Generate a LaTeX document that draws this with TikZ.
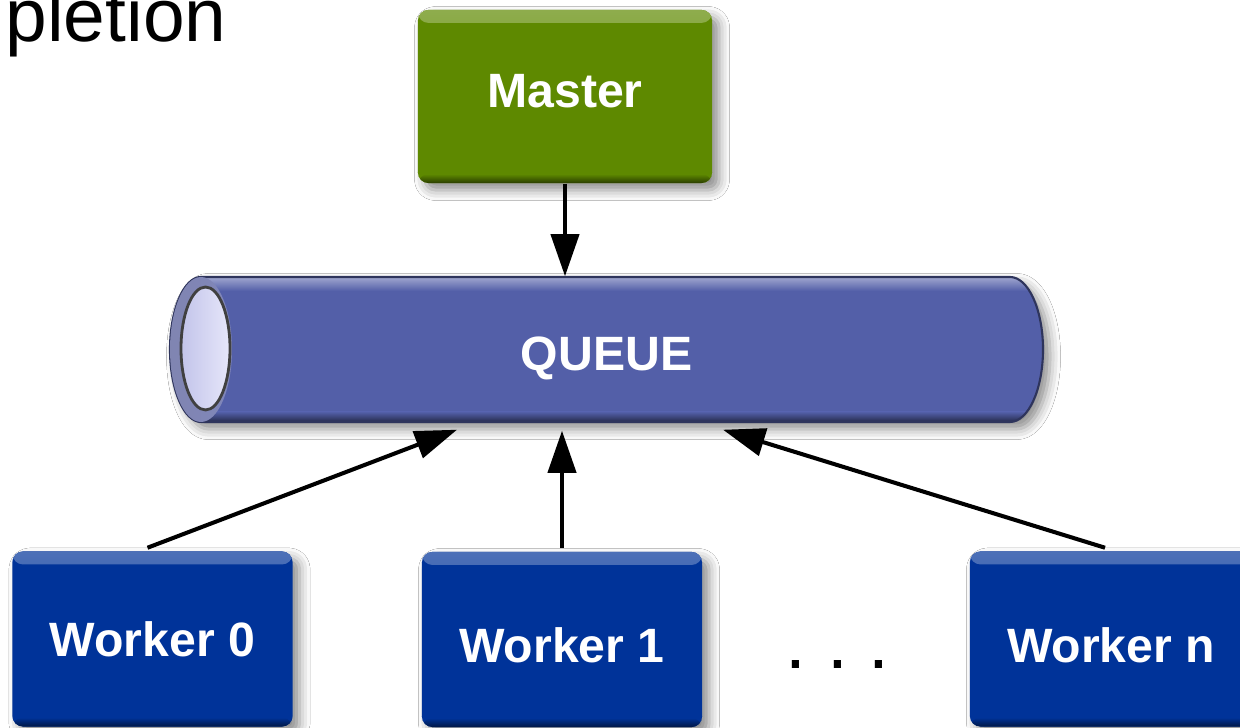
\documentclass[tikz,border=0pt]{standalone}
\usepackage{fontspec}
\setmainfont{Liberation Sans}
\usepackage{tikz}
\usetikzlibrary{arrows.meta,positioning,calc,shadows.blur}

\definecolor{mastergreen}{RGB}{94,137,0}
\definecolor{workerblue}{RGB}{0,51,153}
\definecolor{queueblue}{RGB}{83,95,168}
\definecolor{queuerim}{RGB}{128,134,186}
\definecolor{queueend}{RGB}{214,214,246}

\begin{document}
\begin{tikzpicture}[x=0.01cm, y=0.01cm,
  box/.style={rectangle, rounded corners=3pt, fill=#1, text=white,
    font=\bfseries\fontsize{13.7}{16}\selectfont,
    minimum width=2.8cm, minimum height=1.75cm, inner sep=0pt,
    blur shadow={shadow xshift=2pt, shadow yshift=-2pt, shadow blur radius=3pt, shadow opacity=45},
    path picture={
      \shade[top color=white!30!#1, bottom color=#1] (path picture bounding box.north west) rectangle ([yshift=-0.13cm]path picture bounding box.north east);
      \shade[top color=#1, bottom color=black!55!#1] ([yshift=0.09cm]path picture bounding box.south west) rectangle (path picture bounding box.south east);
    }},
  link/.style={line width=1.15pt, draw opacity=1, fill opacity=1, -{Triangle[length=4.2mm, width=2.8mm, fill=black]}}
]
  \useasboundingbox (0,0) rectangle (1240,728);
  \fill[white] (0,0) rectangle (1240,728);

  % Heading (cut at the left edge)
  \node[anchor=base west, inner sep=0pt, font=\fontsize{21.3}{24}\selectfont] (title) at (5,686) {pletion};

  % Queue pipe
  \fill[queueblue, blur shadow={shadow xshift=2pt, shadow yshift=-2pt, shadow blur radius=3pt, shadow opacity=45}]
    (201,451) arc[start angle=90, end angle=270, x radius=31, y radius=72.5]
    -- (1010,306) arc[start angle=-90, end angle=90, x radius=33, y radius=72.5] -- cycle;
  \begin{scope}
    \clip (201,451) arc[start angle=90, end angle=270, x radius=31, y radius=72.5]
      -- (1010,306) arc[start angle=-90, end angle=90, x radius=33, y radius=72.5] -- cycle;
    \shade[top color=white!45!queueblue, bottom color=queueblue] (160,451) rectangle (1050,437);
    \shade[top color=queueblue, bottom color=black!55!queueblue] (160,316) rectangle (1050,306);
  \end{scope}
  \draw[queueblue!55!black, line width=0.6pt]
    (201,451) arc[start angle=90, end angle=270, x radius=31, y radius=72.5]
    -- (1010,306) arc[start angle=-90, end angle=90, x radius=33, y radius=72.5] -- cycle;
  \shade[left color=queuerim!85!gray, right color=queuerim] (201,378.5) ellipse[x radius=31, y radius=72.5];
  \shade[left color=queueend!85!queueblue, right color=white!40!queueend, draw=black!75, line width=0.8pt]
    (205.5,379.5) ellipse[x radius=24.5, y radius=61.5];
  \node[text=white, font=\bfseries\fontsize{13.7}{16}\selectfont, text height=0.42cm, text depth=0cm,
    minimum width=8.73cm, minimum height=1.45cm] (queue) at (606.5,378.5) {QUEUE};

  % Master and workers
  \node[box=mastergreen, minimum width=2.94cm, minimum height=1.73cm, text depth=0.12cm] (master) at (565,631.5) {Master};
  \node[box=workerblue] (w0) at (152.5,89) {Worker 0};
  \node[box=workerblue, text height=0.47cm] (w1) at (562,88.5) {Worker 1};
  \node[box=workerblue, text height=0.47cm, minimum width=2.82cm] (wn) at (1111,89) {Worker n};
  \node[anchor=base west, inner sep=0pt, font=\fontsize{21.3}{24}\selectfont] (dots) at (785,59) {.\ .\ .};

  % Arrows
  \draw[link] (master.south) -- (master.south |- queue.north);
  \draw[link] ($(w0.north)+(-5,3)$) -- ($(queue.south)+(-149.5,-7)$);
  \draw[link] ($(w1.north)+(0,3)$) -- ($(w1.north |- queue.south)+(0,-8)$);
  \draw[link] ($(wn.north)+(-6,3)$) -- ($(queue.south)+(116.5,-7)$);
\end{tikzpicture}
\end{document}
